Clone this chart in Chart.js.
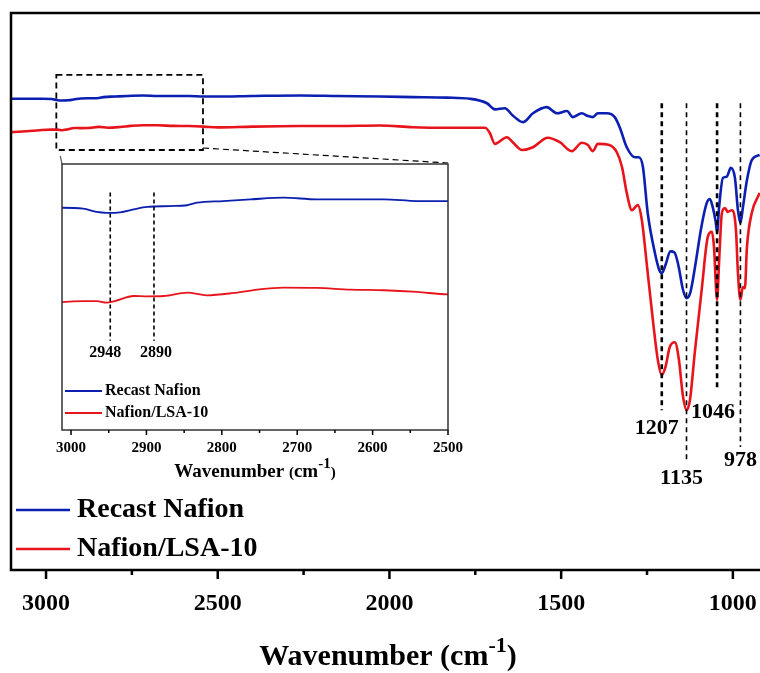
<!DOCTYPE html>
<html>
<head>
<meta charset="utf-8">
<script src="https://cdn.jsdelivr.net/npm/chart.js@4.4.1/dist/chart.umd.min.js"></script>
<style>
  html, body { margin: 0; padding: 0; background: #fff; }
  #wrap { position: relative; width: 760px; height: 673px; overflow: hidden; }
  #main { position: absolute; left: 0; top: 0; }
  #inset { position: absolute; left: 40px; top: 150px; }
</style>
</head>
<body>
<div id="wrap">
  <canvas id="main" width="760" height="673"></canvas>
  <canvas id="inset" width="440" height="340"></canvas>
</div>
<script>
// Recast Nafion spectrum (wavenumber cm-1, transmittance a.u.)
const recastWn = [3102, 3040, 3012, 2984, 2966, 2953, 2935, 2917, 2899, 2869, 2846, 2833, 2798, 2762, 2718, 2674, 2629, 2585, 2541, 2500,
  2400, 2261, 2150, 2028, 1932, 1833, 1766, 1716, 1693, 1664, 1641, 1611, 1582, 1542, 1512, 1483, 1466, 1440, 1422, 1408, 1393, 1367, 1344,
  1329, 1309, 1285, 1274, 1262, 1248, 1227, 1214, 1207, 1196, 1182, 1170, 1158, 1146, 1135, 1124, 1110, 1092, 1076, 1067, 1058, 1050,
  1046, 1040, 1029, 1018, 1006, 994, 985, 978, 971, 959, 945, 922];
const recastT = [84.6, 84.6, 84.6, 84.55, 84.35, 84.3, 84.33, 84.5, 84.65, 84.7, 84.75, 84.9, 85.0, 85.1, 85.2, 85.1, 85.1, 85.1, 85.0, 85.0,
  85.1, 85.2, 85.1, 85.0, 84.9, 84.8, 84.6, 83.8, 82.7, 82.9, 81.6, 80.4, 82.0, 83.1, 82.0, 82.4, 81.3, 82.0, 81.5, 81.3, 82.0, 82.0, 81.3,
  79.4, 75.9, 74.1, 74.1, 72.4, 64.1, 56.9, 53.8, 53.3, 54.8, 57.2, 57.0, 54.5, 50.5, 48.8, 49.8, 54.5, 61.5, 65.9, 66.6, 65.0, 62.5,
  60.7, 65.2, 70.4, 70.6, 72.2, 70.4, 64.5, 62.3, 65.0, 70.0, 73.6, 74.5];

// Nafion/LSA-10 spectrum
const lsaWn = [3102, 3040, 3012, 2984, 2966, 2953, 2942, 2917, 2899, 2877, 2846, 2820, 2784, 2753, 2718, 2674, 2629, 2585, 2541, 2500,
  2400, 2261, 2150, 2028, 1932, 1833, 1722, 1708, 1693, 1658, 1641, 1614, 1582, 1539, 1504, 1469, 1440, 1422, 1408, 1393, 1360, 1338,
  1323, 1309, 1294, 1277, 1265, 1251, 1233, 1218, 1207, 1196, 1184, 1169, 1157, 1146, 1135, 1125, 1111, 1090, 1073, 1061, 1055,
  1046, 1040, 1032, 1023, 1015, 1003, 991, 985, 978, 971, 965, 959, 945, 922];
const lsaT = [78.6, 78.85, 79.0, 79.06, 79.06, 78.96, 79.06, 79.36, 79.34, 79.36, 79.56, 79.4, 79.54, 79.74, 79.86, 79.84, 79.74, 79.7, 79.6, 79.46,
  79.6, 79.7, 79.7, 79.8, 79.5, 79.4, 79.4, 78.5, 76.5, 77.7, 76.8, 75.4, 75.9, 77.6, 76.8, 75.2, 76.7, 76.3, 75.2, 76.5, 76.3, 75.0,
  72.4, 67.7, 64.6, 65.5, 62.8, 55.1, 44.9, 37.5, 35.0, 36.5, 40.0, 40.9, 37.7, 31.5, 28.7, 30.5, 39.0, 50.8, 59.8, 60.7, 58.0,
  48.5, 55.5, 64.1, 65.0, 64.3, 64.6, 61.0, 53.0, 48.5, 50.8, 50.6, 58.0, 64.1, 67.7];

const seriesNames = ['Recast Nafion', 'Nafion/LSA-10'];
const seriesColors = ['#0b1fb0', '#e8141c'];

const peakWn = [1207, 1135, 1046, 978];
const peakLineEnd = [28.7, 19.7, 32.3, 22.1];
const insetPeakWn = [2948, 2890];

const mainTicks = [3000, 2500, 2000, 1500, 1000];
const insetTicks = [3000, 2900, 2800, 2700, 2600, 2500];

const SERIF = '"Liberation Serif", "Times New Roman", serif';

function toPoints(xs, ys) {
  return xs.map((x, i) => ({ x, y: ys[i] }));
}

function makeDatasets(width) {
  return [
    { label: seriesNames[0], data: toPoints(recastWn, recastT), borderColor: seriesColors[0], borderWidth: width },
    { label: seriesNames[1], data: toPoints(lsaWn, lsaT), borderColor: seriesColors[1], borderWidth: width }
  ].map(d => Object.assign(d, { pointRadius: 0, cubicInterpolationMode: 'monotone', fill: false }));
}

function drawTitle(ctx, cx, baseline, size, supSize, smallParen) {
  ctx.save();
  ctx.fillStyle = '#000';
  ctx.textBaseline = 'alphabetic';
  const big = `bold ${size}px ${SERIF}`;
  const small = smallParen ? `bold ${Math.round(size * 0.78)}px ${SERIF}` : big;
  const sup = `bold ${supSize}px ${SERIF}`;
  const parts = [
    { t: 'Wavenumber ', f: big, dy: 0 },
    { t: '(', f: small, dy: 0 },
    { t: 'cm', f: big, dy: 0 },
    { t: '-1', f: sup, dy: -size * 0.45 },
    { t: ')', f: small, dy: 0 }
  ];
  let total = 0;
  parts.forEach(p => { ctx.font = p.f; p.w = ctx.measureText(p.t).width; total += p.w; });
  let x = cx - total / 2;
  parts.forEach(p => { ctx.font = p.f; ctx.fillText(p.t, x, baseline + p.dy); x += p.w; });
  ctx.restore();
}

function drawTicks(ctx, scale, y, step, majorEvery, majorLen, minorLen, width) {
  ctx.save();
  ctx.strokeStyle = '#000';
  ctx.lineWidth = width;
  const lo = Math.ceil(scale.min / step) * step;
  for (let v = lo; v <= scale.max; v += step) {
    const x = scale.getPixelForValue(v);
    const len = v % majorEvery === 0 ? majorLen : minorLen;
    ctx.beginPath();
    ctx.moveTo(x, y);
    ctx.lineTo(x, y + len);
    ctx.stroke();
  }
  ctx.restore();
}

function noSidePadding(s) {
  s.paddingLeft = 0;
  s.paddingRight = 0;
}

const mainDecor = {
  id: 'mainDecor',
  afterDatasetsDraw(chart) {
    const { ctx, chartArea: a, scales: { x, y } } = chart;
    ctx.save();
    // frame (right side is cut off)
    ctx.strokeStyle = '#000';
    ctx.lineWidth = 2.5;
    ctx.beginPath();
    ctx.moveTo(a.right + 5, a.top);
    ctx.lineTo(a.left, a.top);
    ctx.lineTo(a.left, a.bottom);
    ctx.lineTo(a.right + 5, a.bottom);
    ctx.stroke();
    drawTicks(ctx, x, a.bottom, 250, 500, 9, 5, 2.5);

    // peak marker lines
    peakWn.forEach((wn, i) => {
      const px = x.getPixelForValue(wn);
      ctx.beginPath();
      ctx.lineWidth = i % 2 === 0 ? 2.6 : 1.6;
      ctx.setLineDash([5, 4]);
      ctx.moveTo(px, y.getPixelForValue(83.8));
      ctx.lineTo(px, y.getPixelForValue(peakLineEnd[i]));
      ctx.stroke();
    });
    ctx.setLineDash([]);
    ctx.fillStyle = '#000';
    ctx.font = `bold 22px ${SERIF}`;
    ctx.textAlign = 'center';
    ctx.textBaseline = 'middle';
    const labelOffsets = [[-5, 18], [-5, 18], [-4, 22], [0, 13]];
    peakWn.forEach((wn, i) => {
      const px = x.getPixelForValue(wn);
      const py = y.getPixelForValue(peakLineEnd[i]);
      ctx.fillText(String(wn), px + labelOffsets[i][0], py + labelOffsets[i][1]);
    });

    // dashed zoom box and connectors
    const bx1 = x.getPixelForValue(2970), bx2 = x.getPixelForValue(2543);
    const by1 = y.getPixelForValue(88.9), by2 = y.getPixelForValue(75.4);
    ctx.lineWidth = 1.8;
    ctx.setLineDash([6, 4]);
    ctx.strokeRect(bx1, by1, bx2 - bx1, by2 - by1);
    ctx.lineWidth = 1.2;
    ctx.beginPath();
    ctx.moveTo(bx2, by2 - 2);
    ctx.lineTo(448, 163);
    ctx.stroke();
    ctx.setLineDash([]);
    ctx.strokeStyle = '#555';
    ctx.beginPath();
    ctx.moveTo(bx1 + 4, by2 + 6);
    ctx.lineTo(62, 164);
    ctx.stroke();

    // legend
    ctx.textAlign = 'left';
    ctx.font = `bold 28px ${SERIF}`;
    seriesNames.forEach((name, i) => {
      const ly = 510 + i * 39;
      ctx.strokeStyle = seriesColors[i];
      ctx.lineWidth = 2.5;
      ctx.beginPath();
      ctx.moveTo(16, ly);
      ctx.lineTo(70, ly);
      ctx.stroke();
      ctx.fillStyle = '#000';
      ctx.fillText(name, 77, ly);
    });
    ctx.restore();

    drawTitle(ctx, 388, 665, 30, 22, false);
  }
};

new Chart(document.getElementById('main'), {
  type: 'line',
  data: { datasets: makeDatasets(2.6) },
  options: {
    responsive: false,
    animation: false,
    layout: { padding: { left: 11, top: 13, right: 0, bottom: 0 } },
    plugins: { legend: { display: false }, tooltip: { enabled: false } },
    scales: {
      x: {
        type: 'linear', reverse: true, min: 921, max: 3102,
        grid: { display: false },
        border: { display: false },
        afterBuildTicks: s => { s.ticks = mainTicks.map(v => ({ value: v })); },
        afterFit: s => { s.height = 103; noSidePadding(s); },
        ticks: { color: '#000', padding: 11, maxRotation: 0, callback: v => String(v), font: { family: SERIF, size: 24, weight: 'bold' } }
      },
      y: { display: false, min: 0, max: 100 }
    }
  },
  plugins: [mainDecor]
});

const insetDecor = {
  id: 'insetDecor',
  beforeDatasetsDraw(chart) {
    const { ctx, chartArea: a } = chart;
    ctx.save();
    ctx.fillStyle = '#fff';
    ctx.fillRect(a.left, a.top, a.right - a.left, a.bottom - a.top);
    ctx.restore();
  },
  afterDatasetsDraw(chart) {
    const { ctx, chartArea: a, scales: { x, y } } = chart;
    ctx.save();
    ctx.strokeStyle = '#333';
    ctx.lineWidth = 1.5;
    ctx.strokeRect(a.left, a.top, a.right - a.left, a.bottom - a.top);
    drawTicks(ctx, x, a.bottom, 50, 100, 5, 3, 1.5);

    ctx.strokeStyle = '#000';
    ctx.lineWidth = 1.6;
    ctx.setLineDash([4, 3]);
    insetPeakWn.forEach(wn => {
      const px = x.getPixelForValue(wn);
      ctx.beginPath();
      ctx.moveTo(px, y.getPixelForValue(85.5));
      ctx.lineTo(px, y.getPixelForValue(76.7));
      ctx.stroke();
    });
    ctx.setLineDash([]);
    ctx.fillStyle = '#000';
    ctx.font = `bold 16px ${SERIF}`;
    ctx.textAlign = 'center';
    ctx.textBaseline = 'middle';
    const insetOffsets = [-5, 2];
    insetPeakWn.forEach((wn, i) => {
      ctx.fillText(String(wn), x.getPixelForValue(wn) + insetOffsets[i], y.getPixelForValue(76.7) + 12);
    });

    ctx.textAlign = 'left';
    ctx.font = `bold 16px ${SERIF}`;
    seriesNames.forEach((name, i) => {
      const ly = 241 + i * 22;
      ctx.strokeStyle = seriesColors[i];
      ctx.lineWidth = 1.8;
      ctx.beginPath();
      ctx.moveTo(25, ly);
      ctx.lineTo(62, ly);
      ctx.stroke();
      ctx.fillStyle = '#000';
      ctx.fillText(name, 65, ly);
    });
    ctx.restore();

    drawTitle(ctx, 215, 327, 19, 15, true);
  }
};

new Chart(document.getElementById('inset'), {
  type: 'line',
  data: { datasets: makeDatasets(1.8) },
  options: {
    responsive: false,
    animation: false,
    layout: { padding: { left: 22, top: 14, right: 32, bottom: 0 } },
    plugins: { legend: { display: false }, tooltip: { enabled: false } },
    scales: {
      x: {
        type: 'linear', reverse: true, min: 2500, max: 3012,
        grid: { display: false },
        border: { display: false },
        afterBuildTicks: s => { s.ticks = insetTicks.map(v => ({ value: v })); },
        afterFit: s => { s.height = 60; noSidePadding(s); },
        ticks: { color: '#000', padding: 1, maxRotation: 0, callback: v => String(v), font: { family: SERIF, size: 15, weight: 'bold' } }
      },
      y: { display: false, min: 71.4, max: 87.2 }
    }
  },
  plugins: [insetDecor]
});
</script>
</body>
</html>
